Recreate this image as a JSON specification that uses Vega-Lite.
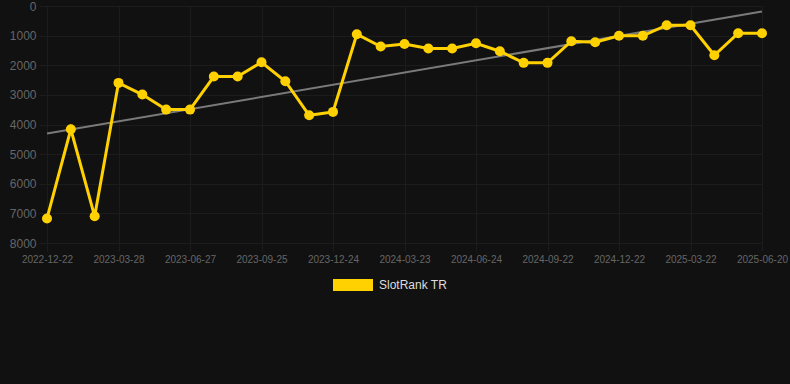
{
  "$schema": "https://vega.github.io/schema/vega-lite/v6.json",
  "width": 715,
  "height": 237,
  "autosize": {"type": "none"},
  "padding": {"left": 47, "top": 6, "right": 28, "bottom": 141},
  "background": "#111111",
  "config": {
    "view": {"stroke": null},
    "font": "Liberation Sans",
    "axis": {
      "domain": false,
      "gridColor": "#1c1c1c",
      "gridWidth": 1,
      "tickColor": "#1c1c1c",
      "tickSize": 8,
      "labelColor": "#666666",
      "title": null
    }
  },
  "datasets": {
    "rank": [
      {"date": "2022-12-22", "rank": 7170, "series": "SlotRank TR"},
      {"date": "2023-01-25", "rank": 4160, "series": "SlotRank TR"},
      {"date": "2023-02-24", "rank": 7100, "series": "SlotRank TR"},
      {"date": "2023-03-28", "rank": 2595, "series": "SlotRank TR"},
      {"date": "2023-04-27", "rank": 2990, "series": "SlotRank TR"},
      {"date": "2023-05-28", "rank": 3497, "series": "SlotRank TR"},
      {"date": "2023-06-27", "rank": 3497, "series": "SlotRank TR"},
      {"date": "2023-07-27", "rank": 2382, "series": "SlotRank TR"},
      {"date": "2023-08-26", "rank": 2382, "series": "SlotRank TR"},
      {"date": "2023-09-25", "rank": 1899, "series": "SlotRank TR"},
      {"date": "2023-10-25", "rank": 2540, "series": "SlotRank TR"},
      {"date": "2023-11-24", "rank": 3689, "series": "SlotRank TR"},
      {"date": "2023-12-24", "rank": 3574, "series": "SlotRank TR"},
      {"date": "2024-01-23", "rank": 953, "series": "SlotRank TR"},
      {"date": "2024-02-22", "rank": 1368, "series": "SlotRank TR"},
      {"date": "2024-03-23", "rank": 1285, "series": "SlotRank TR"},
      {"date": "2024-04-24", "rank": 1436, "series": "SlotRank TR"},
      {"date": "2024-05-24", "rank": 1436, "series": "SlotRank TR"},
      {"date": "2024-06-24", "rank": 1257, "series": "SlotRank TR"},
      {"date": "2024-07-24", "rank": 1527, "series": "SlotRank TR"},
      {"date": "2024-08-23", "rank": 1919, "series": "SlotRank TR"},
      {"date": "2024-09-22", "rank": 1919, "series": "SlotRank TR"},
      {"date": "2024-10-23", "rank": 1189, "series": "SlotRank TR"},
      {"date": "2024-11-22", "rank": 1223, "series": "SlotRank TR"},
      {"date": "2024-12-22", "rank": 1007, "series": "SlotRank TR"},
      {"date": "2025-01-21", "rank": 1007, "series": "SlotRank TR"},
      {"date": "2025-02-20", "rank": 649, "series": "SlotRank TR"},
      {"date": "2025-03-22", "rank": 649, "series": "SlotRank TR"},
      {"date": "2025-04-21", "rank": 1662, "series": "SlotRank TR"},
      {"date": "2025-05-21", "rank": 919, "series": "SlotRank TR"},
      {"date": "2025-06-20", "rank": 919, "series": "SlotRank TR"}
    ],
    "trend": [
      {"date": "2022-12-22", "rank": 4307},
      {"date": "2025-06-20", "rank": 186}
    ]
  },
  "encoding": {
    "x": {
      "field": "date",
      "type": "ordinal",
      "scale": {"type": "point", "padding": 0},
      "axis": {
        "values": ["2022-12-22", "2023-03-28", "2023-06-27", "2023-09-25", "2023-12-24", "2024-03-23", "2024-06-24", "2024-09-22", "2024-12-22", "2025-03-22", "2025-06-20"],
        "labelAngle": 0,
        "labelFontSize": 10,
        "labelPadding": 3,
        "grid": true
      }
    },
    "y": {
      "field": "rank",
      "type": "quantitative",
      "scale": {"domain": [0, 8000], "reverse": true, "nice": false},
      "axis": {
        "values": [0, 1000, 2000, 3000, 4000, 5000, 6000, 7000, 8000],
        "format": "d",
        "labelFontSize": 12,
        "labelPadding": 3,
        "grid": true
      }
    }
  },
  "layer": [
    {
      "data": {"name": "trend"},
      "mark": {"type": "line", "color": "#7a7a7a", "strokeWidth": 2}
    },
    {
      "data": {"name": "rank"},
      "mark": {"type": "line", "color": "#FFD100", "strokeWidth": 3}
    },
    {
      "data": {"name": "rank"},
      "mark": {"type": "point", "filled": true, "size": 100, "opacity": 1, "strokeWidth": 0},
      "encoding": {
        "color": {
          "field": "series",
          "type": "nominal",
          "scale": {"range": ["#FFD100"]},
          "legend": {
            "title": null,
            "orient": "none",
            "legendX": 286,
            "legendY": 259,
            "symbolType": "M-1,-0.3H1V0.3H-1Z",
            "symbolSize": 1600,
            "symbolStrokeWidth": 0,
            "symbolOpacity": 1,
            "labelFontSize": 12,
            "labelColor": "#dddddd",
            "labelOffset": 6
          }
        }
      }
    }
  ]
}
